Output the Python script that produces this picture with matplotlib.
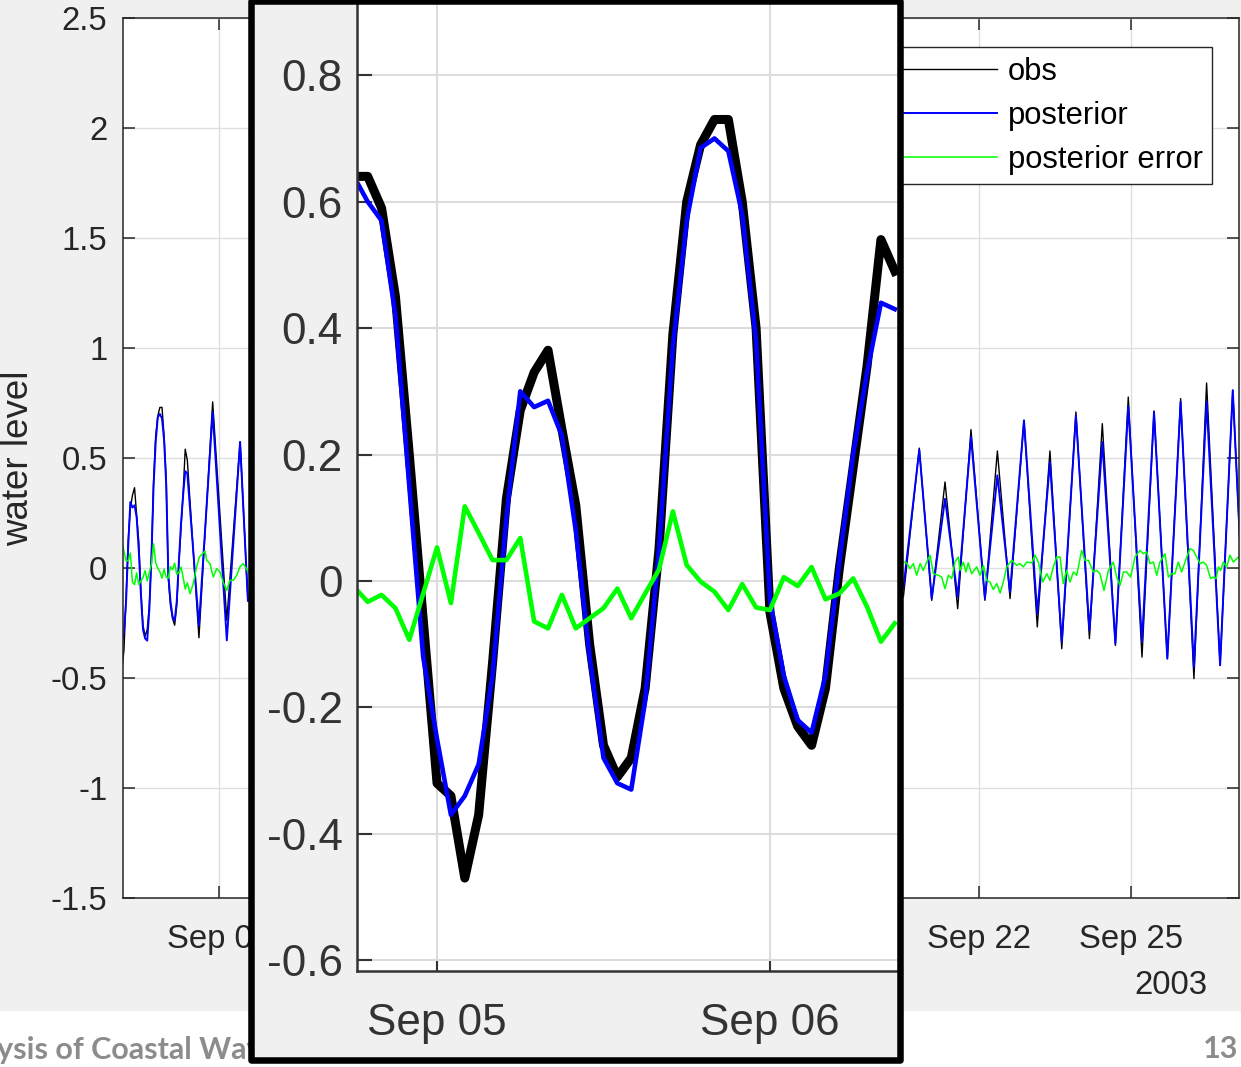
import numpy as np
import pandas as pd
import matplotlib
matplotlib.use('Agg')
import matplotlib.pyplot as plt
import matplotlib.dates as mdates
import matplotlib.ticker as ticker
from matplotlib.patches import Rectangle

plt.rcParams['font.family'] = ['Liberation Sans', 'DejaVu Sans']
plt.rcParams['axes.unicode_minus'] = False

t0 = pd.Timestamp('2003-09-05 00:00')
t1 = pd.Timestamp('2003-09-22 00:00')

# hourly record around Sep 05 (hours after t0)
hrs_a = np.arange(-6, 34)
obs_a = [0.64, 0.64, 0.59, 0.45, 0.20, -0.06, -0.32, -0.34, -0.47, -0.37,
         -0.13, 0.13, 0.27, 0.33, 0.365, 0.24, 0.12, -0.10, -0.26, -0.31,
         -0.28, -0.17, 0.05, 0.39, 0.60, 0.69, 0.73, 0.73, 0.60, 0.40,
         -0.05, -0.17, -0.23, -0.26, -0.17, 0.02, 0.18, 0.34, 0.54, 0.49]
post_a = [0.64, 0.60, 0.57, 0.42, 0.15, -0.12, -0.25, -0.37, -0.34, -0.29,
          -0.15, 0.10, 0.30, 0.275, 0.285, 0.23, 0.08, -0.12, -0.28, -0.32,
          -0.33, -0.19, 0.05, 0.37, 0.57, 0.685, 0.70, 0.68, 0.58, 0.38,
          -0.03, -0.15, -0.22, -0.24, -0.15, 0.03, 0.20, 0.33, 0.44, 0.43]
err_a = [-0.009, -0.033, -0.022, -0.043, -0.093, -0.020, 0.053, -0.035, 0.118, 0.076,
         0.033, 0.033, 0.068, -0.064, -0.075, -0.022, -0.075, -0.059, -0.043, -0.012,
         -0.059, -0.020, 0.018, 0.110, 0.025, -0.001, -0.017, -0.046, -0.005, -0.042,
         -0.046, 0.006, -0.008, 0.022, -0.029, -0.020, 0.004, -0.041, -0.096, -0.067]

# Sep 06-07 highs and lows (hours after t0)
hrs_b = [38.5, 45.0, 51.7, 58.0, 61.7]
obs_b = [-0.317, 0.755, -0.238, 0.573, -0.15]
post_b = [-0.261, 0.709, -0.329, 0.573, -0.15]
hrs_err_b = [34.3, 35.8, 37.4, 38.7, 41.4, 42.2, 43.7, 45.3, 46.9, 48.5,
             50.0, 51.6, 53.2, 54.8, 56.4, 57.9, 59.5, 61.9]
err_b = [-0.117, -0.071, 0.005, 0.050, 0.077, 0.035, 0.020, -0.041, -0.003, -0.018,
         -0.064, -0.102, -0.056, -0.056, -0.033, 0.005, 0.020, -0.018]

# Sep 20-27 highs and lows (hours after t1)
hrs_c = [-35.8, -28.3, -22.4, -16.1, -10.1, -3.8, 2.8, 8.7, 14.7, 21.3,
         27.6, 33.6, 39.2, 45.9, 52.3, 58.4, 64.6, 70.7, 77.2, 82.9,
         89.2, 95.5, 101.8, 107.8, 114.2, 120.2, 126.4]
obs_c = [-0.13, 0.545, -0.147, 0.391, -0.185, 0.629, -0.147, 0.532, -0.139, 0.671,
         -0.268, 0.532, -0.367, 0.709, -0.321, 0.656, -0.352, 0.777, -0.405, 0.714,
         -0.412, 0.770, -0.503, 0.841, -0.442, 0.808, -0.46]
post_c = [-0.09, 0.538, -0.139, 0.315, -0.132, 0.595, -0.139, 0.421, -0.109, 0.671,
          -0.208, 0.482, -0.336, 0.694, -0.283, 0.573, -0.344, 0.735, -0.336, 0.709,
          -0.412, 0.755, -0.450, 0.755, -0.442, 0.808, -0.45]
hrs_err_c = [-35.8, -34.3, -32.7, -31.1, -29.5, -27.9, -26.4, -24.8, -23.2, -21.6,
             -19.3, -17.7, -16.1, -14.5, -12.9, -11.4, -9.8, -9.0, -7.4, -6.2,
             -5.1, -3.5, -1.1, 0.5, 2.1, 3.6, 5.2, 6.8, 8.4, 10.0,
             11.5, 13.1, 15.5, 17.8, 19.4, 21.0, 22.6, 25.0, 26.5, 28.1,
             30.2, 32.1, 33.6, 35.2, 36.8, 38.4, 39.9, 41.5, 43.1, 44.7,
             46.3, 48.6, 50.2, 51.8, 54.2, 55.7, 57.3, 59.2, 61.3, 63.6,
             65.2, 66.8, 68.4, 69.9, 71.8, 73.9, 76.3, 77.8, 79.4, 81.0,
             82.6, 84.2, 85.7, 88.1, 89.7, 91.3, 92.8, 94.4, 96.0, 98.4,
             99.9, 101.5, 103.1, 104.7, 106.3, 107.8, 109.7, 111.0, 112.3, 113.4,
             114.5, 115.7, 117.3, 118.9, 120.5, 122.8]
err_c = [0.027, 0.023, -0.003, 0.020, -0.033, 0.020, -0.011, 0.027, 0.058, -0.026,
         -0.033, -0.041, -0.094, -0.033, -0.048, 0.027, 0.050, -0.011, 0.027, -0.018,
         0.023, -0.026, 0.005, -0.033, 0.012, -0.056, -0.064, -0.098, -0.071, -0.114,
         -0.064, 0.005, 0.035, 0.012, 0.020, 0.005, 0.027, 0.023, 0.058, 0.027,
         -0.064, -0.026, -0.056, 0.005, 0.050, 0.050, -0.071, -0.011, -0.064, -0.018,
         -0.033, 0.080, 0.035, 0.035, -0.018, -0.011, -0.026, -0.102, -0.011, 0.027,
         -0.041, -0.079, -0.018, -0.018, -0.041, 0.050, 0.080, 0.065, 0.073, 0.020,
         0.027, -0.033, 0.027, 0.065, -0.041, -0.026, -0.026, 0.027, -0.018, 0.050,
         0.088, 0.080, 0.050, 0.020, 0.027, 0.012, -0.048, -0.041, -0.048, 0.005,
         -0.011, 0.027, 0.005, 0.058, 0.027, 0.050]


def stamp(base, hrs):
    return (base + pd.to_timedelta(np.asarray(hrs, dtype=float), unit='h')).to_numpy()


t_wl = np.concatenate([stamp(t0, hrs_a), stamp(t0, hrs_b), stamp(t1, hrs_c)])
obs = np.concatenate([obs_a, obs_b, obs_c])
post = np.concatenate([post_a, post_b, post_c])
t_err = np.concatenate([stamp(t0, hrs_a), stamp(t0, hrs_err_b), stamp(t1, hrs_err_c)])
err = np.concatenate([err_a, err_b, err_c])

W, H = 1241, 1067
dark = '#262626'
fig = plt.figure(figsize=(W / 100, H / 100), dpi=100)
fig.patch.set_facecolor('white')
fig.patches.append(Rectangle((0, 56 / H), 1, 1, transform=fig.transFigure,
                             facecolor='#f0f0f0', edgecolor='none', zorder=-5))

# full month
ax = fig.add_axes([123 / W, 169 / H, 1116 / W, 880 / H], zorder=0)
ax.plot(t_wl, obs, color='black', lw=1.0, label='obs')
ax.plot(t_wl, post, color='#0000ff', lw=1.4, label='posterior')
ax.plot(t_err, err, color='#00ff00', lw=1.1, label='posterior error')
ax.set_ylim(-1.5, 2.5)
ax.set_yticks(np.arange(-1.5, 2.51, 0.5))
ax.yaxis.set_major_formatter(ticker.FuncFormatter(lambda v, p: '%g' % round(v, 2)))
ax.set_xlim(t0 + pd.Timedelta(hours=2.53), t1 + pd.Timedelta(hours=123.15))
ax.set_xticks([pd.Timestamp('2003-09-%02d' % d) for d in (7, 10, 13, 16, 19, 22, 25)])
ax.xaxis.set_major_formatter(mdates.DateFormatter('%b %d'))
ax.grid(True, color='#dfdfdf', lw=1.0)
ax.set_axisbelow(True)
ax.tick_params(direction='in', length=8.7, width=1.1, top=True, right=True,
               labelsize=23.7, colors=dark)
ax.tick_params(axis='y', pad=11.3)
ax.tick_params(axis='x', pad=18.5)
for s in ax.spines.values():
    s.set_color(dark)
    s.set_linewidth(1.1)
ax.set_ylabel('water level', fontsize=26.5, color=dark)
ax.yaxis.set_label_coords(-0.078, 0.5)
leg = ax.legend(loc='upper right', bbox_to_anchor=(0.9758, 0.9665), borderaxespad=0,
                fancybox=False, edgecolor=dark, framealpha=1, fontsize=22.3,
                handlelength=4, handletextpad=0.35, labelspacing=0.45, borderpad=0.3)
leg.get_frame().set_linewidth(1.0)
fig.text(1208 / W, 1 - 994 / H, '2003', ha='right', va='baseline', fontsize=23.7, color=dark)

# zoom on Sep 05
frame = dict(xy=(251 / W, 1 - 1060 / H), width=649 / W, height=1059.5 / H,
             transform=fig.transFigure)
fig.patches.append(Rectangle(facecolor='#f0f0f0', edgecolor='none', zorder=1, **frame))
axi = fig.add_axes([357 / W, 96 / H, 541 / W, 971 / H], zorder=2)
axi.plot(stamp(t0, hrs_a), obs_a, color='black', lw=6.5, solid_joinstyle='round')
axi.plot(stamp(t0, hrs_a), post_a, color='#0000ff', lw=3.3)
axi.plot(stamp(t0, hrs_a), err_a, color='#00ff00', lw=3.3)
axi.set_xlim(t0 + pd.Timedelta(hours=-5.77), t0 + pd.Timedelta(hours=33.23))
axi.set_ylim(-0.617, 0.919)
axi.set_yticks(np.arange(-0.6, 0.81, 0.2))
axi.yaxis.set_major_formatter(ticker.FuncFormatter(lambda v, p: '%g' % round(v, 2)))
axi.xaxis.set_major_locator(mdates.DayLocator())
axi.xaxis.set_major_formatter(mdates.DateFormatter('%b %d'))
axi.grid(True, color='#dcdcdc', lw=1.5)
axi.set_axisbelow(True)
axi.spines['top'].set_visible(False)
axi.spines['right'].set_visible(False)
for s in ('left', 'bottom'):
    axi.spines[s].set_color('#333333')
    axi.spines[s].set_linewidth(1.8)
axi.tick_params(axis='y', direction='in', length=10.6, width=1.5, labelsize=31.7,
                colors='#333333', pad=10.4)
axi.tick_params(axis='x', direction='in', length=8.4, width=1.5, labelsize=31.7,
                colors='#333333', pad=23)
fig.patches.append(Rectangle(facecolor='none', edgecolor='black', lw=4.7,
                             joinstyle='round', zorder=3, **frame))

# slide footer
fig.text(-3 / W, 1 - 1059 / H, 'ysis of Coastal Wav', ha='left', va='baseline',
         fontsize=22, fontweight='bold', color='#8c8c8c', family='Lato', zorder=0.5)
fig.text(1238 / W, 1 - 1058 / H, '13', ha='right', va='baseline',
         fontsize=22, fontweight='bold', color='#8c8c8c', family='Lato', zorder=0.5)

fig.savefig('out.png', dpi=100)
